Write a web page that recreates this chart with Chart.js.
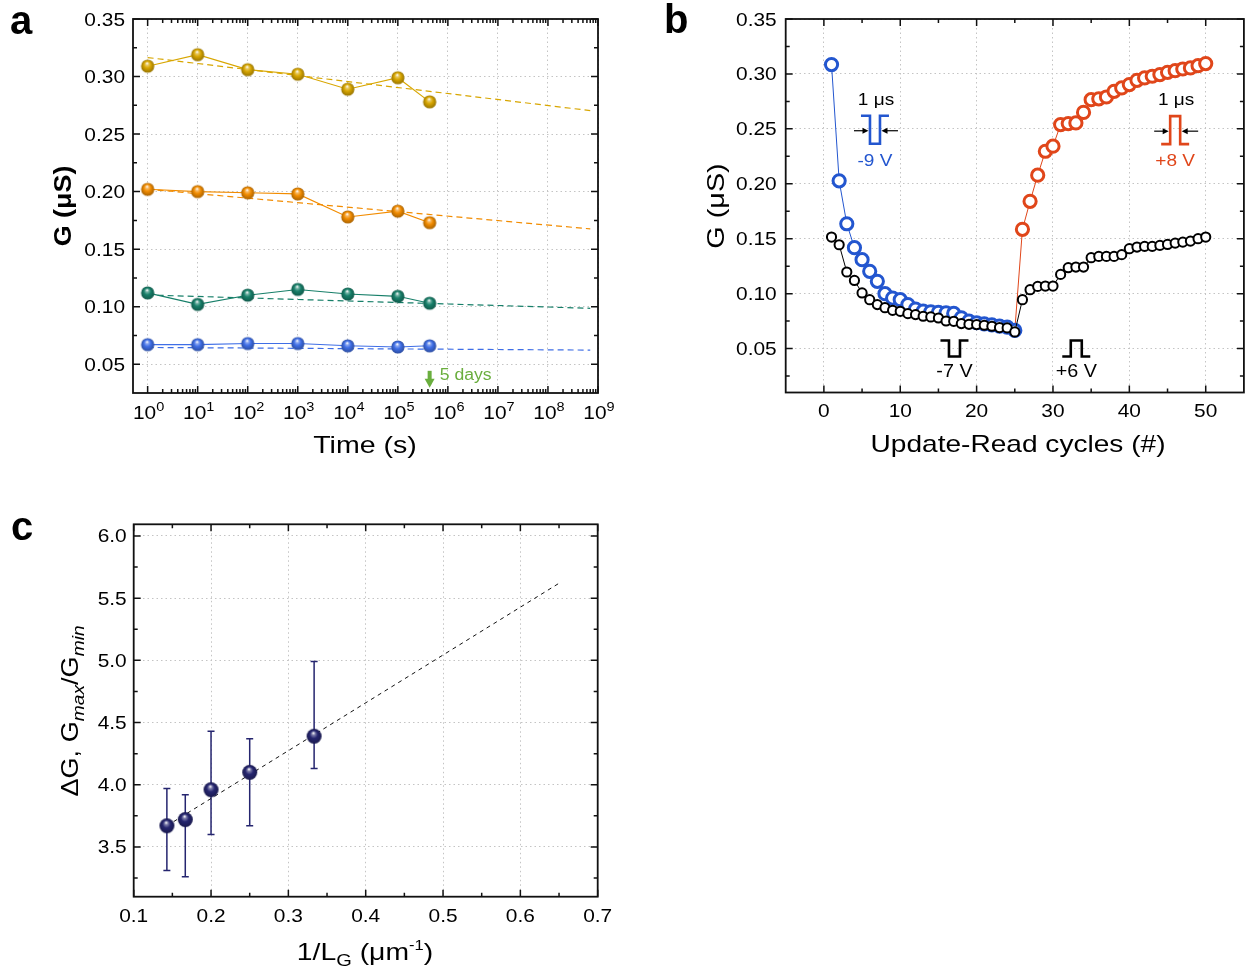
<!DOCTYPE html>
<html>
<head>
<meta charset="utf-8">
<title>Retention, update-read cycles and channel length</title>
<script src="https://cdn.jsdelivr.net/npm/chart.js"></script>
<style>
  html, body { margin: 0; padding: 0; background: #fff; }
  body { width: 1253px; height: 973px; position: relative; overflow: hidden; }
  .panel { position: absolute; }
</style>
</head>
<body>
<div class="panel" style="left:0;top:0;width:626px;height:470px"><canvas id="chartA"></canvas></div>
<div class="panel" style="left:640px;top:0;width:613px;height:470px"><canvas id="chartB"></canvas></div>
<div class="panel" style="left:0;top:490px;width:626px;height:483px"><canvas id="chartC"></canvas></div>
<script>
// ---- panel a : retention of 4 states ----
const timeS = [1, 10, 100, 1000, 1e4, 1e5, 432000];
const gYellow = [0.309, 0.319, 0.306, 0.302, 0.289, 0.299, 0.278];
const gOrange = [0.202, 0.200, 0.199, 0.198, 0.178, 0.183, 0.173];
const gTeal = [0.112, 0.102, 0.110, 0.115, 0.111, 0.109, 0.103];
const gBlue = [0.067, 0.067, 0.068, 0.068, 0.066, 0.065, 0.066];
const fitTime = [1, 7e8];
const fitYellow = [0.3165, 0.2704];
const fitOrange = [0.2021, 0.1676];
const fitTeal = [0.1102, 0.0986];
const fitBlue = [0.0646, 0.0623];
const timeTicks = [1, 10, 100, 1e3, 1e4, 1e5, 1e6, 1e7, 1e8, 1e9];
const timeExp = ['0', '1', '2', '3', '4', '5', '6', '7', '8', '9'];
const gTicksA = [0.05, 0.10, 0.15, 0.20, 0.25, 0.30, 0.35];
const fiveDays = 432000;

// ---- panel b : update-read cycles ----
const cycDep = [1, 2, 3, 4, 5, 6, 7, 8, 9, 10, 11, 12, 13, 14, 15, 16, 17, 18, 19, 20, 21, 22, 23, 24, 25];
const gDep9 = [0.3085, 0.2027, 0.1636, 0.1418, 0.1309, 0.1203, 0.1112, 0.1000, 0.0960, 0.0945, 0.0900, 0.0860,
  0.0840, 0.0835, 0.0830, 0.0825, 0.0820, 0.0780, 0.0750, 0.0735, 0.0725, 0.0715, 0.0705, 0.0695, 0.0665];
const cycPot = [25, 26, 27, 28, 29, 30, 31, 32, 33, 34, 35, 36, 37, 38, 39, 40, 41, 42, 43, 44, 45, 46, 47, 48, 49, 50];
const gPot8 = [0.0665, 0.1585, 0.1840, 0.2078, 0.2296, 0.2342, 0.2539, 0.2548, 0.2554, 0.2650, 0.2766, 0.2773, 0.2790,
  0.2842, 0.2873, 0.2903, 0.2942, 0.2964, 0.2979, 0.2994, 0.3015, 0.3030, 0.3045, 0.3055, 0.3075, 0.3094];
const cycAll = [1, 2, 3, 4, 5, 6, 7, 8, 9, 10, 11, 12, 13, 14, 15, 16, 17, 18, 19, 20, 21, 22, 23, 24, 25,
  26, 27, 28, 29, 30, 31, 32, 33, 34, 35, 36, 37, 38, 39, 40, 41, 42, 43, 44, 45, 46, 47, 48, 49, 50];
const gLow = [0.1515, 0.1445, 0.1197, 0.1120, 0.1006, 0.0945, 0.0900, 0.0872, 0.0848, 0.0839, 0.0818, 0.0809, 0.0794,
  0.0788, 0.0778, 0.0751, 0.0748, 0.0727, 0.0721, 0.0718, 0.0712, 0.0703, 0.0691, 0.0688, 0.0651,
  0.0945, 0.1036, 0.1066, 0.1069, 0.1069, 0.1175, 0.1236, 0.1242, 0.1242, 0.1327, 0.1339, 0.1339, 0.1339,
  0.1355, 0.1409, 0.1424, 0.1430, 0.1430, 0.1439, 0.1448, 0.1460, 0.1469, 0.1478, 0.1500, 0.1515];
const cycTicks = [0, 10, 20, 30, 40, 50];
const gTicksB = [0.05, 0.10, 0.15, 0.20, 0.25, 0.30, 0.35];

// ---- panel c : on/off ratio vs 1/LG ----
const invLg = [0.1429, 0.1667, 0.2, 0.25, 0.3333];
const ratio = [3.67, 3.72, 3.96, 4.10, 4.39];
const ratioHi = [3.97, 3.92, 4.43, 4.37, 4.99];
const ratioLo = [3.31, 3.26, 3.60, 3.67, 4.13];
const fitLg = [0.1429, 0.65];
const fitRatio = [3.67, 5.62];
const lgTicks = [0.1, 0.2, 0.3, 0.4, 0.5, 0.6, 0.7];
const ratioTicks = [3.5, 4.0, 4.5, 5.0, 5.5, 6.0];

const FONT = "'Liberation Sans', Arial, sans-serif";
const SX = 1.16; // the original lettering is a bit wider than Liberation Sans
Chart.defaults.font.family = FONT;
Chart.defaults.color = '#000';

const pts = (xs, ys) => xs.map((x, i) => ({ x: x, y: ys[i] }));

function mix(hex, other, t) {
  const p = h => [1, 3, 5].map(i => parseInt(h.slice(i, i + 2), 16));
  const a = p(hex), b = p(other);
  return 'rgb(' + a.map((v, i) => Math.round(v + (b[i] - v) * t)).join(',') + ')';
}

// shaded ball marker
function sphere(hex, r) {
  const s = Math.ceil(2 * r + 2);
  const c = document.createElement('canvas');
  c.width = c.height = s;
  const g = c.getContext('2d');
  const m = s / 2;
  const grad = g.createRadialGradient(m - r * 0.1, m - r * 0.45, r * 0.04, m, m, r);
  grad.addColorStop(0, '#ffffff');
  grad.addColorStop(0.2, mix(hex, '#ffffff', 0.4));
  grad.addColorStop(0.5, hex);
  grad.addColorStop(1, mix(hex, '#000000', 0.3));
  g.fillStyle = grad;
  g.beginPath();
  g.arc(m, m, r, 0, Math.PI * 2);
  g.fill();
  return c;
}

const grid = { color: '#c4c4c4', lineWidth: 1, drawTicks: false };
const border = { display: false, dash: [1.5, 3] };

// text made of pieces: [text, size, italic, shift, bold]; centred on x, baseline y
function rich(ctx, parts, x, y, angle, sx) {
  const f = p => (p[2] ? 'italic ' : '') + (p[4] ? 'bold ' : '') + p[1] + 'px ' + FONT;
  ctx.save();
  ctx.translate(x, y);
  if (angle) ctx.rotate(angle);
  ctx.scale(sx || SX, 1);
  ctx.textAlign = 'left';
  ctx.textBaseline = 'alphabetic';
  let w = 0;
  parts.forEach(p => { ctx.font = f(p); w += ctx.measureText(p[0]).width; });
  let cx = -w / 2;
  parts.forEach(p => {
    ctx.font = f(p);
    ctx.fillText(p[0], cx, p[3] || 0);
    cx += ctx.measureText(p[0]).width;
  });
  ctx.restore();
}

function rightText(ctx, t, x, y, size) {
  ctx.save();
  ctx.translate(x, y);
  ctx.scale(SX, 1);
  ctx.font = size + 'px ' + FONT;
  ctx.textAlign = 'right';
  ctx.textBaseline = 'alphabetic';
  ctx.fillText(t, 0, 0);
  ctx.restore();
}

function letter(ctx, t, x, y) {
  ctx.save();
  ctx.font = 'bold 40px ' + FONT;
  ctx.fillStyle = '#000';
  ctx.textAlign = 'left';
  ctx.textBaseline = 'alphabetic';
  ctx.fillText(t, x, y);
  ctx.restore();
}

// frame with inward ticks on all four sides, plus tick labels
function frame(cfg) {
  return {
    id: 'frame',
    afterDatasetsDraw(chart) {
      const { ctx, chartArea: a, scales: { x, y } } = chart;
      ctx.save();
      ctx.strokeStyle = '#111';
      ctx.lineWidth = 1.5;
      ctx.beginPath();
      const tx = (vals, len) => vals.forEach(v => {
        const p = x.getPixelForValue(v);
        ctx.moveTo(p, a.bottom); ctx.lineTo(p, a.bottom - len);
        ctx.moveTo(p, a.top); ctx.lineTo(p, a.top + len);
      });
      const ty = (vals, len) => vals.forEach(v => {
        const p = y.getPixelForValue(v);
        ctx.moveTo(a.left, p); ctx.lineTo(a.left + len, p);
        ctx.moveTo(a.right, p); ctx.lineTo(a.right - len, p);
      });
      tx(cfg.xMajor, 7); tx(cfg.xMinor, 4); ty(cfg.yMajor, 7); ty(cfg.yMinor, 4);
      ctx.stroke();
      ctx.lineWidth = 1.8;
      ctx.strokeRect(a.left, a.top, a.right - a.left, a.bottom - a.top);
      ctx.fillStyle = '#000';
      if (cfg.xText) cfg.xMajor.forEach(v => rich(ctx, [[cfg.xText(v), 18]], x.getPixelForValue(v), a.bottom + cfg.xOff));
      cfg.yMajor.forEach(v => rightText(ctx, cfg.yText(v), a.left - cfg.yPad, y.getPixelForValue(v) + 6.5, 18));
      ctx.restore();
    }
  };
}

const minors = (from, to, step) => { const r = []; for (let v = from; v < to + 1e-9; v += step) r.push(+v.toFixed(4)); return r; };
const logMinors = [];
for (let d = 0; d < 9; d++) for (let m = 2; m <= 9; m++) logMinors.push(m * Math.pow(10, d));

const common = {
  responsive: true,
  maintainAspectRatio: false,
  animation: false,
  events: [],
  plugins: { legend: { display: false }, tooltip: { enabled: false } }
};
const axis = (min, max, ticks, size, isX, type) => ({
  type: type || 'linear', min: min, max: max,
  afterBuildTicks: s => { s.ticks = ticks.map(v => ({ value: v })); },
  afterFit: s => { if (isX) s.height = size; else s.width = size; },
  ticks: { display: false }, grid: grid, border: border
});

// ================= panel a =================
const ballY = sphere('#d8a600', 6.6), ballO = sphere('#f28c00', 6.6),
  ballT = sphere('#177f69', 6.6), ballB = sphere('#3f6ee6', 6.6);
const series = (ys, col, ball) => ({ data: pts(timeS, ys), borderColor: col, borderWidth: 1.1, pointStyle: ball, pointRadius: 6, order: 1 });
const fitLine = (ys, col) => ({ data: pts(fitTime, ys), borderColor: col, borderWidth: 1.2, borderDash: [6, 4], pointRadius: 0, order: 2 });

new Chart(document.getElementById('chartA'), {
  type: 'line',
  data: {
    datasets: [
      series(gYellow, '#d8a600', ballY), series(gOrange, '#f28c00', ballO),
      series(gTeal, '#177f69', ballT), series(gBlue, '#3f6ee6', ballB),
      fitLine(fitYellow, '#d8a600'), fitLine(fitOrange, '#f28c00'),
      fitLine(fitTeal, '#177f69'), fitLine(fitBlue, '#3f6ee6')
    ]
  },
  options: Object.assign({}, common, {
    layout: { padding: { top: 19, right: 28, left: 0, bottom: 0 } },
    scales: {
      x: axis(0.51, 1e9, timeTicks, 77, true, 'logarithmic'),
      y: axis(0.025, 0.35, gTicksA, 133, false)
    }
  }),
  plugins: [frame({ xMajor: timeTicks, xMinor: logMinors, yMajor: gTicksA, yMinor: minors(0.075, 0.325, 0.05),
    yText: v => v.toFixed(2), yPad: 8 }), {
    id: 'textA',
    afterDraw(chart) {
      const { ctx, scales: { x, y } } = chart;
      ctx.fillStyle = '#000';
      timeTicks.forEach((v, i) => rich(ctx, [['10', 18], [timeExp[i], 12.5, false, -8]], x.getPixelForValue(v) + 1, 419));
      rich(ctx, [['Time (s)', 24]], 365, 453, 0, 1.19);
      rich(ctx, [['G (μS)', 24, false, 0, true]], 71, 206, -Math.PI / 2, 1.12);
      // 5 days marker
      const px = x.getPixelForValue(fiveDays), py = y.getPixelForValue(0.0295);
      ctx.save();
      ctx.fillStyle = '#6aae3e';
      ctx.fillRect(px - 2, py - 17, 4, 9);
      ctx.beginPath();
      ctx.moveTo(px - 5, py - 9); ctx.lineTo(px + 5, py - 9); ctx.lineTo(px, py); ctx.closePath();
      ctx.fill();
      rich(ctx, [['5 days', 16]], px + 36, py - 8, 0, 1.1);
      ctx.restore();
      letter(ctx, 'a', 10, 34);
    }
  }]
});

// ================= panel b =================
const BLUE = '#2356cf', RED = '#e0461a';
function pulse(ctx, cx, cy, h, half, sh, up, col) {
  const top = cy - h / 2, bot = cy + h / 2;
  const base = up ? bot : top, peak = up ? top : bot;
  ctx.beginPath();
  ctx.moveTo(cx - half - sh, base); ctx.lineTo(cx - half, base); ctx.lineTo(cx - half, peak);
  ctx.lineTo(cx + half, peak); ctx.lineTo(cx + half, base); ctx.lineTo(cx + half + sh, base);
  ctx.strokeStyle = col;
  ctx.lineWidth = 2.6;
  ctx.stroke();
}
function arrow(ctx, x0, x1, y) {
  const d = Math.sign(x1 - x0);
  ctx.beginPath();
  ctx.moveTo(x0, y); ctx.lineTo(x1 - d * 5, y);
  ctx.strokeStyle = '#000'; ctx.lineWidth = 1.2; ctx.stroke();
  ctx.beginPath();
  ctx.moveTo(x1, y); ctx.lineTo(x1 - d * 6, y - 3); ctx.lineTo(x1 - d * 6, y + 3); ctx.closePath();
  ctx.fillStyle = '#000'; ctx.fill();
}
const pulseNotes = [
  { x: 6.69, g: 0.2492, up: false, col: BLUE, big: true, volt: '-9 V' },
  { x: 46.0, g: 0.2488, up: true, col: RED, big: true, volt: '+8 V' },
  { x: 17.1, g: 0.0501, up: false, col: '#000', big: false, volt: '-7 V' },
  { x: 33.05, g: 0.0501, up: true, col: '#000', big: false, volt: '+6 V' }
];

new Chart(document.getElementById('chartB'), {
  type: 'line',
  data: {
    datasets: [
      { data: pts(cycAll, gLow), borderColor: '#000', borderWidth: 1, pointStyle: 'circle', pointRadius: 4.6,
        pointBorderWidth: 2, pointBorderColor: '#000', pointBackgroundColor: '#fff', order: 0 },
      { data: pts(cycDep, gDep9), borderColor: BLUE, borderWidth: 1, pointStyle: 'circle', pointRadius: 6.1,
        pointBorderWidth: 3, pointBorderColor: BLUE, pointBackgroundColor: '#fff', order: 1 },
      { data: pts(cycPot, gPot8), borderColor: RED, borderWidth: 1, pointStyle: 'circle',
        pointRadius: c => c.dataIndex === 0 ? 0 : 6.1,
        pointBorderWidth: 3, pointBorderColor: RED, pointBackgroundColor: '#fff', order: 1 }
    ]
  },
  options: Object.assign({}, common, {
    layout: { padding: { top: 19, right: 5, left: 0, bottom: 0 } },
    scales: {
      x: axis(-5, 55, cycTicks, 77.5, true),
      y: axis(0.01, 0.35, gTicksB, 145.7, false)
    }
  }),
  plugins: [frame({ xMajor: cycTicks, xMinor: minors(5, 45, 10), yMajor: gTicksB, yMinor: minors(0.025, 0.325, 0.05),
    xText: v => String(v), xOff: 24, yText: v => v.toFixed(2), yPad: 9 }), {
    id: 'textB',
    afterDraw(chart) {
      const { ctx, scales: { x, y } } = chart;
      ctx.save();
      pulseNotes.forEach(n => {
        const cx = x.getPixelForValue(n.x), cy = y.getPixelForValue(n.g);
        if (n.big) {
          pulse(ctx, cx, cy, 28, 5, 9, n.up, n.col);
          arrow(ctx, cx - 21, cx - 6.5, cy + 1);
          arrow(ctx, cx + 23, cx + 6.5, cy + 1);
          ctx.fillStyle = '#000';
          rich(ctx, [['1 μs', 17]], cx + 1, cy - 25, 0, 1.12);
          ctx.fillStyle = n.col;
          rich(ctx, [[n.volt, 17]], cx, cy + 36, 0, 1.12);
        } else {
          pulse(ctx, cx, cy, 16, 5.5, 8.5, n.up, n.col);
          ctx.fillStyle = '#000';
          rich(ctx, [[n.volt, 18]], cx, cy + 29, 0, 1.1);
        }
      });
      ctx.restore();
      ctx.fillStyle = '#000';
      rich(ctx, [['Update-Read cycles (#)', 24]], 378, 452, 0, 1.17);
      rich(ctx, [['G (μS)', 24]], 84, 206, -Math.PI / 2, 1.2);
      letter(ctx, 'b', 24, 33);
    }
  }]
});

// ================= panel c =================
const NAVY = '#25256f';
new Chart(document.getElementById('chartC'), {
  type: 'line',
  data: {
    datasets: [
      { data: pts(invLg, ratio), showLine: false, pointStyle: sphere(NAVY, 7.5), pointRadius: 7, order: 0 },
      { data: pts(fitLg, fitRatio), borderColor: '#111', borderWidth: 1, borderDash: [4, 4], pointRadius: 0, order: 1 }
    ]
  },
  options: Object.assign({}, common, {
    layout: { padding: { top: 34.3, right: 28.3, left: 0, bottom: 0 } },
    scales: {
      x: axis(0.1, 0.7, lgTicks, 76.3, true),
      y: axis(3.1, 6.094, ratioTicks, 133.7, false)
    }
  }),
  plugins: [frame({ xMajor: lgTicks, xMinor: minors(0.15, 0.65, 0.1), yMajor: ratioTicks, yMinor: minors(3.25, 5.75, 0.5),
    xText: v => v.toFixed(1), xOff: 25, yText: v => v.toFixed(1), yPad: 7 }), {
    id: 'errBars',
    beforeDatasetsDraw(chart) {
      const { ctx, scales: { x, y } } = chart;
      ctx.save();
      ctx.strokeStyle = NAVY;
      ctx.lineWidth = 1.5;
      ctx.beginPath();
      invLg.forEach((v, i) => {
        const px = x.getPixelForValue(v), hi = y.getPixelForValue(ratioHi[i]), lo = y.getPixelForValue(ratioLo[i]);
        ctx.moveTo(px, hi); ctx.lineTo(px, lo);
        ctx.moveTo(px - 3.5, hi); ctx.lineTo(px + 3.5, hi);
        ctx.moveTo(px - 3.5, lo); ctx.lineTo(px + 3.5, lo);
      });
      ctx.stroke();
      ctx.restore();
    },
    afterDraw(chart) {
      const ctx = chart.ctx;
      ctx.fillStyle = '#000';
      rich(ctx, [['1/L', 24], ['G', 17, false, 6], [' (μm', 24], ['-1', 14, false, -10], [')', 24]], 365, 470, 0, 1.18);
      rich(ctx, [['ΔG, G', 24], ['max', 17, true, 6], ['/G', 24], ['min', 17, true, 6]], 78, 221, -Math.PI / 2, 1.13);
      letter(ctx, 'c', 11, 50);
    }
  }]
});
</script>
</body>
</html>
